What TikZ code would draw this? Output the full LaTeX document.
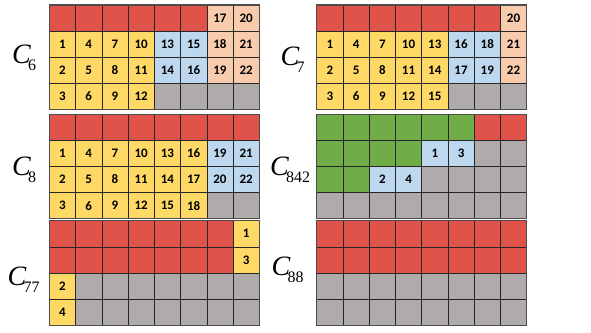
\documentclass[tikz,border=0pt]{standalone}
\usepackage{fontspec}
\usepackage{tikz}
\newfontfamily\cellfont{Carlito}
\newfontfamily\labfont{Liberation Serif}
\definecolor{cRed}{RGB}{224,83,74}
\definecolor{cYel}{RGB}{255,217,102}
\definecolor{cBlu}{RGB}{189,215,238}
\definecolor{cPea}{RGB}{248,203,173}
\definecolor{cGry}{RGB}{175,171,171}
\definecolor{cGrn}{RGB}{112,173,71}
\newcommand{\cw}{26.25}
\newcommand{\ch}{26.1}
% one 8x4 block of cells, rows given as colour/text lists
\newcommand{\cellgrid}[4]{%
  \foreach \row [count=\j from 0] in {#4}{
    \foreach \f/\t [count=\i from 0] in \row
      \node[cell,fill=\f] (#1-\j-\i) at ({#2+(\i+0.5)*\cw},{#3+(\j+0.5)*\ch}) {\t};
  }
  \draw[frame] (#2,#3) rectangle ++(8*\cw,4*\ch);
}
\newcommand{\capname}[1]{{\fontsize{28}{30}\selectfont\labfont\textit{C}}\kern-3pt\raisebox{-7pt}{\fontsize{16}{18}\selectfont\labfont #1}}

\begin{document}
\begin{tikzpicture}[x=1pt,y=-1pt,
  cell/.style={rectangle,draw=black!85,line width=0.6pt,inner sep=0pt,outer sep=0pt,
    minimum width=\cw pt,minimum height=\ch pt,font=\fontsize{13}{15}\selectfont\cellfont\bfseries},
  frame/.style={draw=black!70,line width=1.1pt},
  capl/.style={anchor=base west,inner sep=0pt}]
  \useasboundingbox (0,0) rectangle (591,332);
  % top row
  \cellgrid{g6}{49.3}{5}{
    {cRed/{},cRed/{},cRed/{},cRed/{},cRed/{},cRed/{},cPea/17,cPea/20},
    {cYel/1,cYel/4,cYel/7,cYel/10,cBlu/13,cBlu/15,cPea/18,cPea/21},
    {cYel/2,cYel/5,cYel/8,cYel/11,cBlu/14,cBlu/16,cPea/19,cPea/22},
    {cYel/3,cYel/6,cYel/9,cYel/12,cGry/{},cGry/{},cGry/{},cGry/{}}}
  \cellgrid{g7}{316.7}{5}{
    {cRed/{},cRed/{},cRed/{},cRed/{},cRed/{},cRed/{},cRed/{},cPea/20},
    {cYel/1,cYel/4,cYel/7,cYel/10,cYel/13,cBlu/16,cBlu/18,cPea/21},
    {cYel/2,cYel/5,cYel/8,cYel/11,cYel/14,cBlu/17,cBlu/19,cPea/22},
    {cYel/3,cYel/6,cYel/9,cYel/12,cYel/15,cGry/{},cGry/{},cGry/{}}}
  % middle row
  \cellgrid{g8}{49.3}{114.3}{
    {cRed/{},cRed/{},cRed/{},cRed/{},cRed/{},cRed/{},cRed/{},cRed/{}},
    {cYel/1,cYel/4,cYel/7,cYel/10,cYel/13,cYel/16,cBlu/19,cBlu/21},
    {cYel/2,cYel/5,cYel/8,cYel/11,cYel/14,cYel/17,cBlu/20,cBlu/22},
    {cYel/3,cYel/6,cYel/9,cYel/12,cYel/15,cYel/18,cGry/{},cGry/{}}}
  \cellgrid{g842}{316.7}{114.3}{
    {cGrn/{},cGrn/{},cGrn/{},cGrn/{},cGrn/{},cGrn/{},cRed/{},cRed/{}},
    {cGrn/{},cGrn/{},cGrn/{},cGrn/{},cBlu/1,cBlu/3,cGry/{},cGry/{}},
    {cGrn/{},cGrn/{},cBlu/2,cBlu/4,cGry/{},cGry/{},cGry/{},cGry/{}},
    {cGry/{},cGry/{},cGry/{},cGry/{},cGry/{},cGry/{},cGry/{},cGry/{}}}
  % bottom row
  \cellgrid{g77}{49.3}{220.7}{
    {cRed/{},cRed/{},cRed/{},cRed/{},cRed/{},cRed/{},cRed/{},cYel/1},
    {cRed/{},cRed/{},cRed/{},cRed/{},cRed/{},cRed/{},cRed/{},cYel/3},
    {cYel/2,cGry/{},cGry/{},cGry/{},cGry/{},cGry/{},cGry/{},cGry/{}},
    {cYel/4,cGry/{},cGry/{},cGry/{},cGry/{},cGry/{},cGry/{},cGry/{}}}
  \cellgrid{g88}{316.7}{220.7}{
    {cRed/{},cRed/{},cRed/{},cRed/{},cRed/{},cRed/{},cRed/{},cRed/{}},
    {cRed/{},cRed/{},cRed/{},cRed/{},cRed/{},cRed/{},cRed/{},cRed/{}},
    {cGry/{},cGry/{},cGry/{},cGry/{},cGry/{},cGry/{},cGry/{},cGry/{}},
    {cGry/{},cGry/{},cGry/{},cGry/{},cGry/{},cGry/{},cGry/{},cGry/{}}}
  % block names
  \node[capl] (lab6) at (12,63.5) {\capname{6}};
  \node[capl] (lab7) at (280.5,65) {\capname{7}};
  \node[capl] (lab8) at (12,175) {\capname{8}};
  \node[capl] (lab842) at (270,175) {\capname{842}};
  \node[capl] (lab77) at (7.5,285.5) {\capname{77}};
  \node[capl] (lab88) at (271.5,275) {\capname{88}};
\end{tikzpicture}
\end{document}
